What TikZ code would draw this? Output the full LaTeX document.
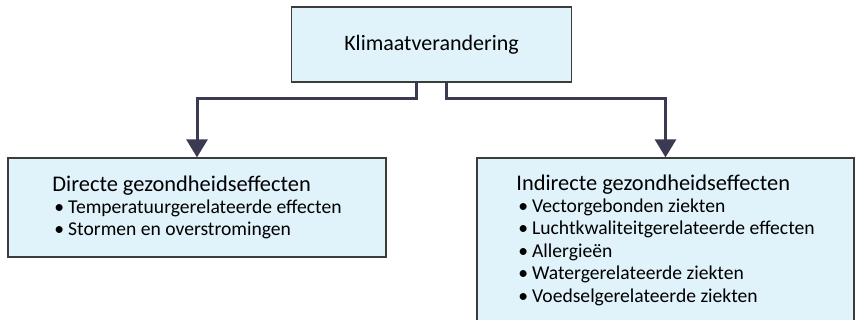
\documentclass[tikz,border=0pt]{standalone}
\usepackage{fontspec}
\setmainfont{Carlito}
\usepackage{xcolor}
\usetikzlibrary{arrows.meta,positioning}
\definecolor{boxfill}{HTML}{E0F2FA}
\definecolor{boxline}{HTML}{3C3C3C}
\definecolor{connline}{HTML}{3A3A52}
\tikzstyle{topbox} = [draw=boxline, line width=1.3pt, fill=boxfill, minimum width=280pt, minimum height=75pt, font=\fontsize{22}{26}\selectfont]
\tikzstyle{effectbox} = [draw=boxline, line width=1.3pt, fill=boxfill, align=left, inner sep=0pt, font=\fontsize{19.6}{22.4}\selectfont]
\tikzstyle{conn} = [draw=connline, line width=3pt, -{Triangle[width=21pt,length=18pt]}]
\newcommand{\hdr}[1]{{\fontsize{22.4}{22.4}\selectfont #1}}
\newcommand{\itm}{\hspace*{2pt}\textbullet\hspace{4pt}}

\begin{document}
\begin{tikzpicture}[x=1pt,y=-1pt]
\clip (0,0) rectangle (856,320);
\path (431.5,44.5) node (clim) [topbox] {Klimaatverandering};

\path (197,207.5) node (direct) [effectbox, minimum width=378pt, minimum height=99pt]
  {\hdr{Directe gezondheidseffecten}\\
   \itm Temperatuurgerelateerde effecten\\
   \itm Stormen en overstromingen};
\path (665.5,240) node (indirect) [effectbox, minimum width=377pt, minimum height=164pt]
  {\hdr{Indirecte gezondheidseffecten}\\
   \itm Vectorgebonden ziekten\\
   \itm Luchtkwaliteitgerelateerde effecten\\
   \itm Allergieën\\
   \itm Watergerelateerde ziekten\\
   \itm Voedselgerelateerde ziekten};

\path [conn] ([xshift=-15pt]clim.south) -- ++(0,16) -| (direct.north);
\path [conn] ([xshift=14.5pt]clim.south) -- ++(0,16) -| (indirect.north);
\end{tikzpicture}
\end{document}
